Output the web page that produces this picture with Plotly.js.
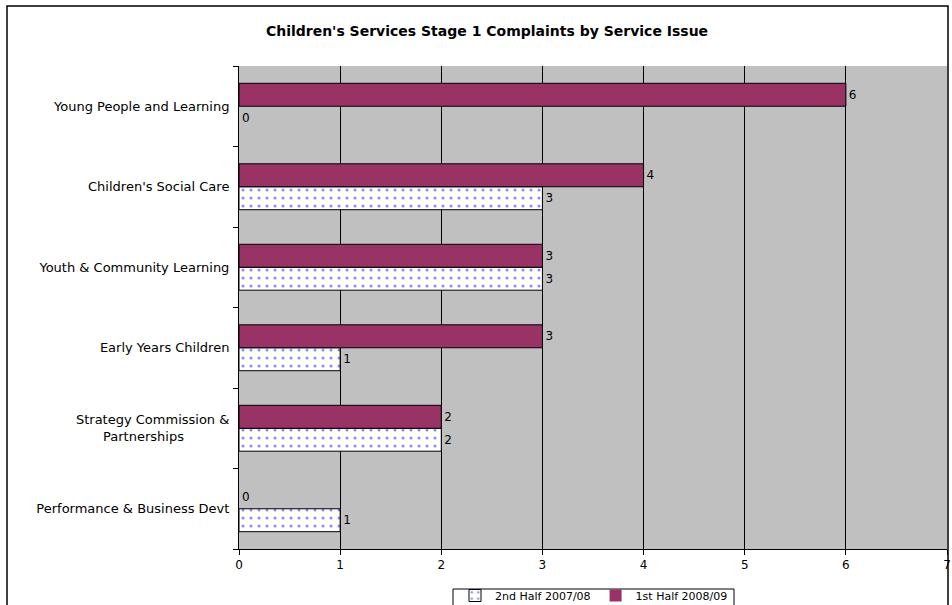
<!DOCTYPE html>
<html>
<head>
<meta charset="utf-8">
<script src="https://cdn.plot.ly/plotly-3.0.1.min.js"></script>
<style>html,body{margin:0;padding:0;background:#fff;}#chart{width:952px;height:605px;}</style>
</head>
<body>
<div id="chart"></div>
<script>
// Categories listed bottom-to-top (as Plotly draws a category y-axis)
const categories = [
  "Performance & Business Devt",
  "Strategy Commission &<br>Partnerships&nbsp;&nbsp;&nbsp;&nbsp;&nbsp;&nbsp;&nbsp;&nbsp;&nbsp;&nbsp;&nbsp;",
  "Early Years Children",
  "Youth & Community Learning",
  "Children's Social Care",
  "Young People and Learning"
];
const seriesNames = ["2nd Half 2007/08", "1st Half 2008/09"];
const secondHalf0708 = [1, 2, 1, 3, 3, 0];
const firstHalf0809 = [0, 2, 3, 3, 4, 6];
const xTicks = [0, 1, 2, 3, 4, 5, 6, 7];

const FONT = "DejaVu Sans, Liberation Sans, Arial, sans-serif";

// plot area in pixels
const W = 952, H = 605, L = 239, R = 947, T = 66, B = 549;
const px = v => (v - L) / (R - L);
const py = v => (B - v) / (B - T);
const outline = vals => vals.map(v => (v === 0 ? 0 : 1));

const traces = [
  {
    type: "bar", orientation: "h", name: seriesNames[0],
    y: categories, x: secondHalf0708,
    text: secondHalf0708.map(String), textposition: "outside", cliponaxis: false,
    textfont: {family: FONT, size: 12, color: "#000"},
    marker: {
      color: "#ffffff",
      line: {color: "#000", width: outline(secondHalf0708)},
      pattern: {shape: ".", fgcolor: "#8c8cff", bgcolor: "#ffffff", size: 8, solidity: 0.12}
    },
    hoverinfo: "x+y"
  },
  {
    type: "bar", orientation: "h", name: seriesNames[1],
    y: categories, x: firstHalf0809,
    text: firstHalf0809.map(String), textposition: "outside", cliponaxis: false,
    textfont: {family: FONT, size: 12, color: "#000"},
    marker: {color: "#993366", line: {color: "#000", width: outline(firstHalf0809)}},
    hoverinfo: "x+y"
  }
];

const layout = {
  width: W, height: H,
  margin: {l: L, r: W - R, t: T, b: H - B, pad: 0, autoexpand: false},
  paper_bgcolor: "#ffffff",
  plot_bgcolor: "#c0c0c0",
  font: {family: FONT, size: 12, color: "#000"},
  title: {
    text: "<b>Children's Services Stage 1 Complaints by Service Issue</b>",
    font: {family: FONT, size: 14, color: "#000"},
    x: 487 / W, xanchor: "center", xref: "container",
    y: 1 - 31 / H, yanchor: "middle", yref: "container"
  },
  barmode: "group", bargap: 0.43, bargroupgap: 0,
  xaxis: {
    range: [0, 7], tickvals: xTicks, ticktext: xTicks.map(String),
    showgrid: true, gridcolor: "#000", gridwidth: 1,
    zeroline: false, showline: true, linecolor: "#000", linewidth: 1,
    ticks: "outside", ticklen: 5, tickcolor: "#000",
    tickfont: {family: FONT, size: 12, color: "#000"}, fixedrange: true
  },
  yaxis: {
    type: "category", categoryorder: "array", categoryarray: categories,
    showgrid: false, zeroline: false, showline: true, linecolor: "#000", linewidth: 1,
    ticks: "outside", ticklen: 5, tickcolor: "#000", tickson: "boundaries",
    ticklabelstandoff: 6,
    tickfont: {family: FONT, size: 13, color: "#000"}, fixedrange: true
  },
  showlegend: true,
  legend: {
    orientation: "h", xref: "container", yref: "container",
    x: 594 / W, xanchor: "center", y: 1 - 581 / H, yanchor: "top",
    borderwidth: 0, bgcolor: "rgba(0,0,0,0)",
    font: {family: FONT, size: 11, color: "#000"},
    traceorder: "normal", itemwidth: 30, tracegroupgap: 0
  },
  shapes: [
    {type: "rect", xref: "paper", yref: "paper",
     x0: px(7), x1: px(948), y0: py(640), y1: py(6),
     line: {color: "#000", width: 1.5}, fillcolor: "rgba(0,0,0,0)", layer: "above"},
    {type: "rect", xref: "paper", yref: "paper",
     x0: px(453), x1: px(734), y0: py(612), y1: py(589),
     line: {color: "#000", width: 1}, fillcolor: "#ffffff", layer: "below"}
  ]
};

Plotly.newPlot("chart", traces, layout, {displayModeBar: false, staticPlot: true});
</script>
</body>
</html>
